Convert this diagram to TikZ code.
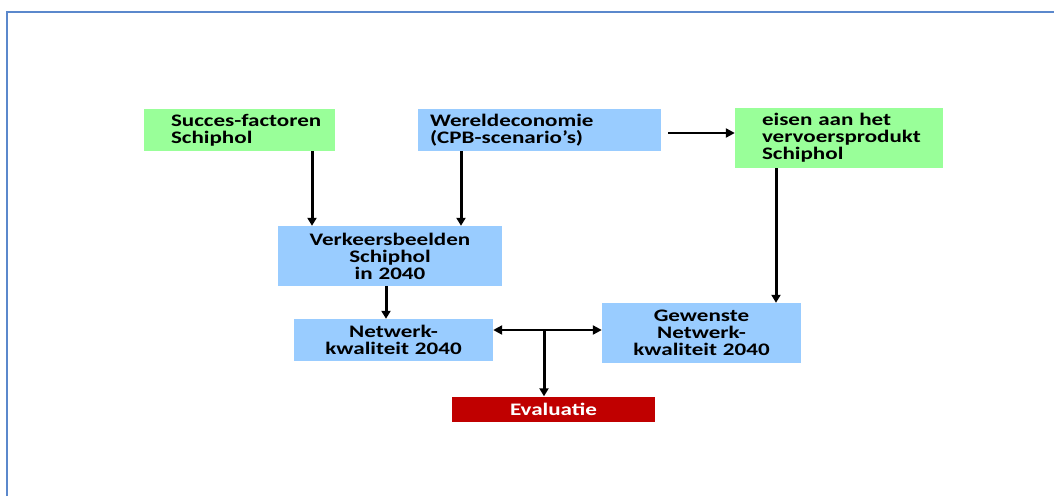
\documentclass[tikz,border=0pt]{standalone}
\usepackage{fontspec}
\newfontfamily\boxfont[FakeStretch=1.31]{Carlito}
\usepackage{xcolor}
\usetikzlibrary{positioning,arrows.meta}
\definecolor{lichtgroen}{HTML}{99FF99}
\definecolor{lichtblauw}{HTML}{99CCFF}
\definecolor{donkerrood}{HTML}{C00000}
\definecolor{kader}{HTML}{5B88CC}

\begin{document}
\begin{tikzpicture}[
  x=1pt, y=-1pt,
  box/.style={rectangle, inner ysep=0pt, inner xsep=0pt, font=\boxfont\bfseries\fontsize{17.6}{17}\selectfont},
  lbox/.style={box, align=left, execute at begin node={\leftskip=#1}},
  cbox/.style={box, align=center},
  arr/.style={-{Triangle[length=8pt,width=9pt]}, line width=3pt},
  harr/.style={-{Triangle[length=9pt,width=9pt]}, line width=2.2pt},
  darr/.style={{Triangle[length=9pt,width=9pt]}-{Triangle[length=9pt,width=9pt]}, line width=2.2pt}
]
\useasboundingbox (0,0) rectangle (1054,496);

% Frame
\draw[kader, line width=2pt] (7,496) -- (7,12) -- (1054,12);

% Boxes
\node[lbox=27pt, fill=lichtgroen, text width=191pt, minimum height=42pt] (sfac) at (239.5,130)
  {Succes-factoren\\Schiphol};
\node[lbox=12pt, fill=lichtblauw, text width=243pt, minimum height=42pt] (wec) at (539.5,130)
  {Wereldeconomie\\(CPB-scenario’s)};
\node[lbox=27pt, fill=lichtgroen, text width=208pt, minimum height=60pt] (eisen) at (839,138)
  {eisen aan het\\vervoersprodukt\\Schiphol};
\node[cbox, fill=lichtblauw, text width=224pt, minimum height=60pt] (verk) at (390,256)
  {Verkeersbeelden\\Schiphol\\in 2040};
\node[cbox, fill=lichtblauw, text width=199pt, minimum height=42pt] (netw) at (393.5,340)
  {Netwerk-\\kwaliteit 2040};
\node[cbox, fill=lichtblauw, text width=199pt, minimum height=60pt] (gew) at (701.5,333)
  {Gewenste\\Netwerk-\\kwaliteit 2040};
\node[cbox, fill=donkerrood, text=white, text width=203pt, minimum height=25pt] (eval) at (553.5,409)
  {Evaluatie};

% Arrows
\draw[arr] ([xshift=72.5pt]sfac.south) -- ([xshift=72.5pt]sfac.south |- verk.north);
\draw[arr] ([xshift=-78.5pt]wec.south) -- ([xshift=-78.5pt]wec.south |- verk.north);
\coordinate (wecuit) at ([shift={(7pt,-3pt)}]wec.east);
\draw[harr] (wecuit) -- (eisen.west |- wecuit);
\draw[arr] ([xshift=-63pt]eisen.south) -- ([xshift=-63pt]eisen.south |- gew.north);
\draw[arr] ([xshift=-4pt]verk.south) -- ([xshift=-4pt]verk.south |- netw.north);
\draw[darr] ([yshift=10pt]netw.east) -- ([yshift=3pt]gew.west);
\coordinate (splits) at (544,330);
\draw[arr] (splits) -- (eval.north -| splits);

\end{tikzpicture}
\end{document}
